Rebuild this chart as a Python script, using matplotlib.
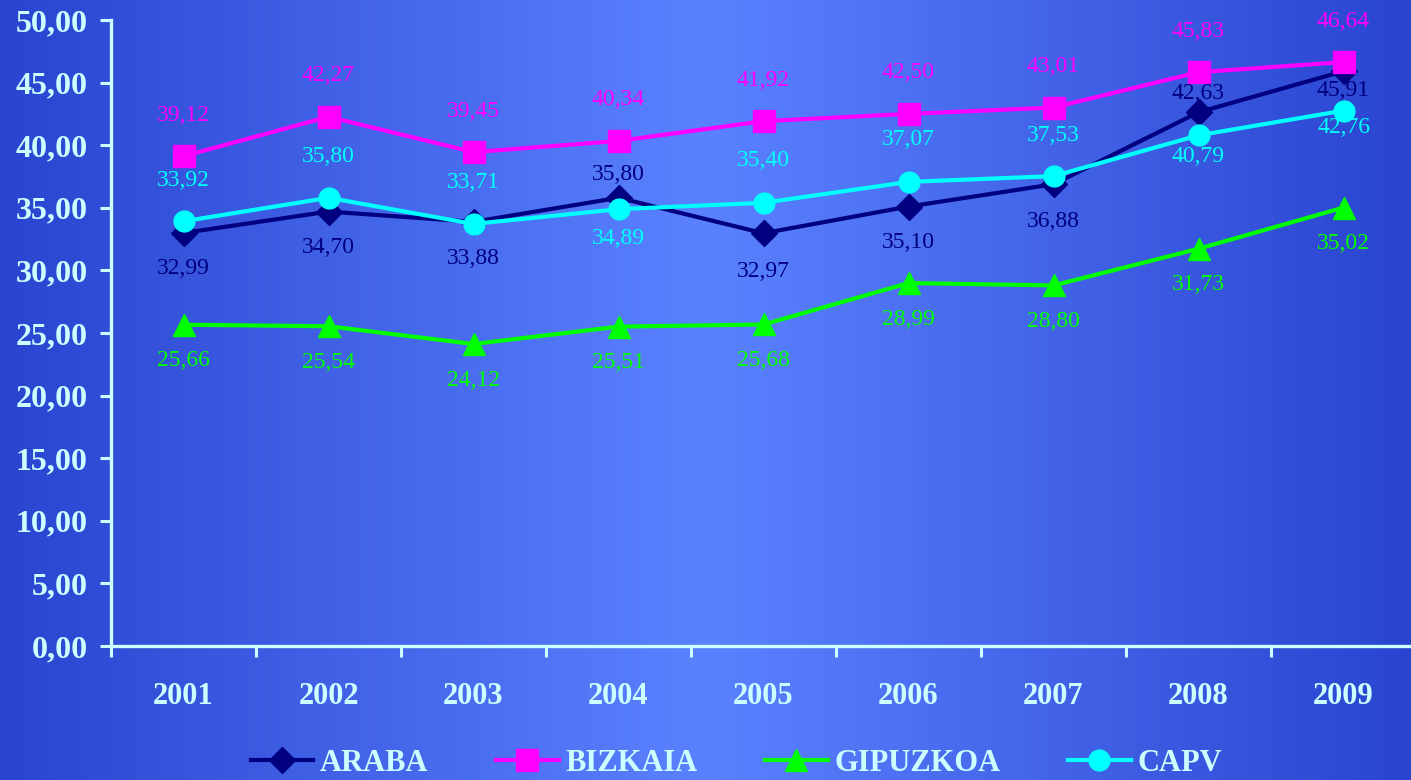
import numpy as np
import matplotlib
matplotlib.use("Agg")
import matplotlib.pyplot as plt

years = ["2001", "2002", "2003", "2004", "2005", "2006", "2007", "2008", "2009"]
araba = [32.99, 34.70, 33.88, 35.80, 32.97, 35.10, 36.88, 42.63, 45.91]
bizkaia = [39.12, 42.27, 39.45, 40.34, 41.92, 42.50, 43.01, 45.83, 46.64]
gipuzkoa = [25.66, 25.54, 24.12, 25.51, 25.68, 28.99, 28.80, 31.73, 35.02]
capv = [33.92, 35.80, 33.71, 34.89, 35.40, 37.07, 37.53, 40.79, 42.76]
series_names = ["ARABA", "BIZKAIA", "GIPUZKOA", "CAPV"]

# label offsets in pixels (positive = below marker)
off_araba = [36, 36, 37, -23, 38, 36, 37, -19, 19]
off_bizkaia = [-41] * 9
off_gipuzkoa = [36] * 9
off_capv = [-41, -41, -41, 29, -42, -42, -41, 21, 17]

txt_col = "#CCFFFF"
serif = ["Liberation Serif", "DejaVu Serif"]

W, H = 1411, 780
fig = plt.figure(figsize=(W / 100, H / 100), dpi=100)

# background gradient
bg = fig.add_axes([0, 0, 1, 1], zorder=-10)
xs = np.linspace(0, 1, 400)
edge = np.array([42, 68, 208]) / 255
center = np.array([90, 130, 255]) / 255
t = 1 - np.abs(2 * xs - 1)
row = edge[None, :] + (center - edge)[None, :] * t[:, None]
img = np.repeat(row[None, :, :], 2, axis=0)
bg.imshow(img, aspect="auto", extent=[0, 1, 0, 1])
bg.set_axis_off()

ax = fig.add_axes([111 / W, 134 / H, (1416 - 111) / W, (646 - 20) / H])
ax.set_facecolor("none")

x = np.arange(len(years))
styles = [
    (araba, "#000080", "D", 13.5, off_araba),
    (bizkaia, "#FF00FF", "s", 15.5, off_bizkaia),
    (gipuzkoa, "#00FF00", "^", 15.5, off_gipuzkoa),
    (capv, "#00FFFF", "o", 15, off_capv),
]
for (vals, col, mk, ms, offs), name in zip(styles, series_names):
    ax.plot(x, vals, color=col, lw=3, marker=mk, markersize=ms,
            markeredgecolor=col, label=name, clip_on=False, zorder=3)
    for xi, v, o in zip(x, vals, offs):
        ax.annotate(f"{v:.2f}".replace(".", ","), (xi, v), xytext=(0, -o),
                    textcoords="offset pixels", ha="center", va="center",
                    color=col, fontsize=17, family=serif, zorder=4)

ax.set_xlim(-0.5, 8.5)
ax.set_ylim(0, 50)
yt = np.arange(0, 51, 5)
ax.set_yticks(yt)
ax.set_yticklabels([f"{v:.2f}".replace(".", ",") for v in yt],
                   fontsize=23, fontweight="bold", family=serif, color=txt_col)
ax.set_xticks(np.arange(-0.5, 9, 1))
ax.set_xticklabels([])
ax.set_xticks(x, minor=True)
ax.set_xticklabels(years, minor=True, fontsize=22, fontweight="bold",
                   family=serif, color=txt_col)
ax.tick_params(axis="x", which="minor", length=0, pad=26)
ax.tick_params(axis="x", which="major", length=8, width=2.2, color=txt_col, direction="out")
ax.tick_params(axis="y", length=8, width=2.2, color=txt_col, pad=9)

for s in ["top", "right"]:
    ax.spines[s].set_visible(False)
for s in ["left", "bottom"]:
    ax.spines[s].set_color(txt_col)
    ax.spines[s].set_linewidth(2.4)

leg = fig.legend(loc="center", bbox_to_anchor=(0.522, 0.021), ncol=4,
                 frameon=False, handlelength=2.05, handletextpad=0.23,
                 columnspacing=2.2,
                 prop={"family": serif, "weight": "bold", "size": 22})
for tx in leg.get_texts():
    tx.set_color(txt_col)

fig.savefig("out.png", dpi=100)
